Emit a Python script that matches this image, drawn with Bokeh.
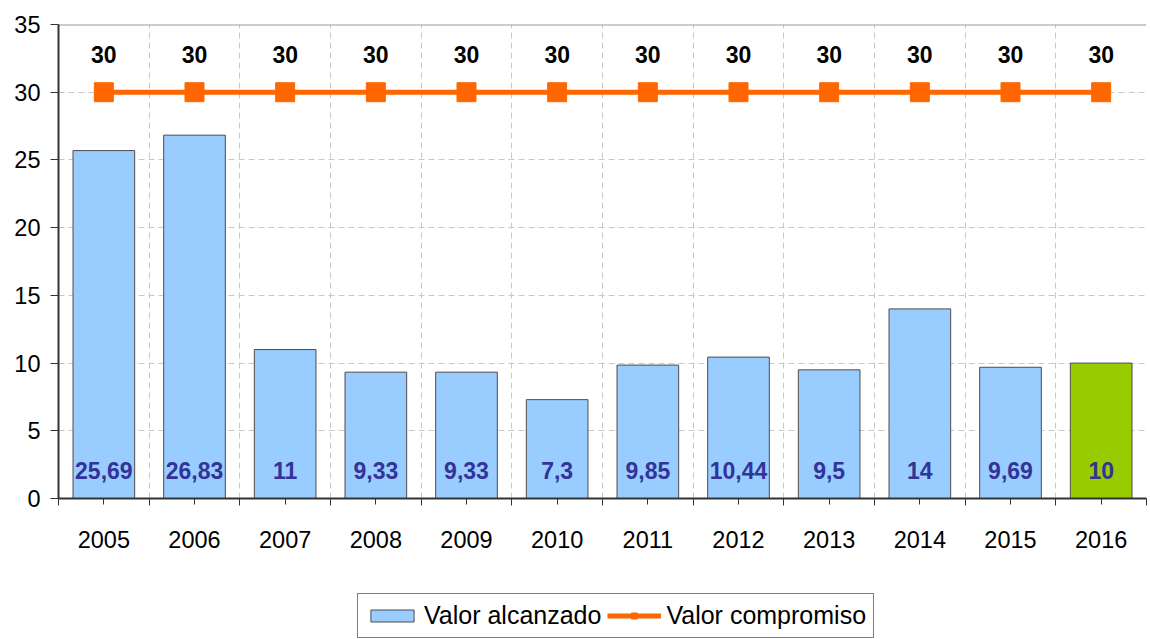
from bokeh.plotting import figure
from bokeh.layouts import column
from bokeh.models import ColumnDataSource, FixedTicker, Legend, LegendItem, Range1d
from bokeh.core.properties import value
from bokeh.embed import file_html
from bokeh.resources import INLINE

years = ["2005", "2006", "2007", "2008", "2009", "2010", "2011", "2012", "2013", "2014", "2015", "2016"]
alcanzado = [25.69, 26.83, 11, 9.33, 9.33, 7.3, 9.85, 10.44, 9.5, 14, 9.69, 10]
alcanzado_labels = ["25,69", "26,83", "11", "9,33", "9,33", "7,3", "9,85", "10,44", "9,5", "14", "9,69", "10"]
compromiso = [30, 30, 30, 30, 30, 30, 30, 30, 30, 30, 30, 30]
compromiso_labels = ["30"] * 12

n = len(years)
xc = [i + 0.5 for i in range(n)]
colors = ["#99CCFF"] * (n - 1) + ["#99CC00"]

FONT = "Liberation Sans"
FS = "23.5px"
BAR_LINE = "#4d4d4d"
ORANGE = "#FF6600"

src = ColumnDataSource(dict(x=xc, top=alcanzado, lab=alcanzado_labels, color=colors,
                            comp=compromiso, clab=compromiso_labels,
                            ly=[2.07] * n, cy=[32.8] * n))

p = figure(width=1150, height=590, output_backend="svg", toolbar_location=None,
           x_range=Range1d(0, n), y_range=Range1d(0, 35),
           min_border_left=58, min_border_right=4, min_border_top=24, min_border_bottom=92)
p.outline_line_color = None

p.vbar(x="x", top="top", width=0.68, bottom=0, source=src, fill_color="color",
       line_color=BAR_LINE, line_width=1)
p.line(x="x", y="comp", source=src, line_color=ORANGE, line_width=5)
p.scatter(x="x", y="comp", source=src, marker="square", size=19,
          fill_color=ORANGE, line_color=ORANGE)

p.text(x="x", y="ly", text="lab", source=src, text_align="center", text_baseline="middle",
       text_font=value(FONT), text_font_style="bold", text_font_size="23px", text_color="#333399")
p.text(x="x", y="cy", text="clab", source=src, text_align="center", text_baseline="middle",
       text_font=value(FONT), text_font_style="bold", text_font_size="23px", text_color="#000000")

# top border
p.line(x=[0, n], y=[35, 35], line_color="#999999", line_width=2)

# axes
p.xaxis.ticker = FixedTicker(ticks=xc, minor_ticks=list(range(n + 1)))
p.xaxis.major_label_overrides = {x: y for x, y in zip(xc, years)}
p.xaxis.major_label_text_font = FONT
p.xaxis.major_label_text_font_size = FS
p.xaxis.major_label_text_color = "#000000"
p.xaxis.major_label_standoff = 25
p.xaxis.major_tick_in = 0
p.xaxis.major_tick_out = 6
p.xaxis.minor_tick_in = 0
p.xaxis.minor_tick_out = 7
p.xaxis.axis_line_color = "#333333"
p.xaxis.axis_line_width = 2
p.xaxis.major_tick_line_color = "#333333"
p.xaxis.minor_tick_line_color = "#333333"

p.yaxis.ticker = FixedTicker(ticks=[0, 5, 10, 15, 20, 25, 30, 35])
p.yaxis.major_label_text_font = FONT
p.yaxis.major_label_text_font_size = FS
p.yaxis.major_label_text_color = "#000000"
p.yaxis.major_label_standoff = 10
p.yaxis.major_tick_in = 0
p.yaxis.major_tick_out = 8
p.yaxis.minor_tick_line_color = None
p.yaxis.axis_line_color = "#333333"
p.yaxis.axis_line_width = 2
p.yaxis.major_tick_line_color = "#333333"

# grids
p.xgrid.ticker = FixedTicker(ticks=list(range(1, n)))
p.xgrid.grid_line_color = "#c8c8c8"
p.xgrid.grid_line_dash = "6 4"
p.ygrid.grid_line_color = "#c8c8c8"
p.ygrid.grid_line_dash = "6 4"

# legend strip below the chart (legend proxies are off-screen)
pl = figure(width=1150, height=49, output_backend="svg", toolbar_location=None,
            x_range=Range1d(1000, 1001), y_range=Range1d(1000, 1001),
            min_border_left=0, min_border_right=0, min_border_top=0, min_border_bottom=0,
            x_axis_type=None, y_axis_type=None)
pl.outline_line_color = None
pl.grid.visible = False
proxy = ColumnDataSource(dict(x=xc[:1], top=alcanzado[:1], y=compromiso[:1]))
lb = pl.vbar(x="x", top="top", width=0.5, source=proxy, fill_color="#99CCFF", line_color=BAR_LINE)
ll = pl.line(x="x", y="y", source=proxy, line_color=ORANGE, line_width=5)
lm = pl.scatter(x="x", y="y", source=proxy, marker="square", size=13,
                fill_color=ORANGE, line_color=ORANGE)

legend = Legend(items=[LegendItem(label="Valor alcanzado", renderers=[lb]),
                       LegendItem(label="Valor compromiso", renderers=[ll, lm])],
                orientation="horizontal", location=(299, 1),
                label_text_font=FONT, label_text_font_size="25px", label_text_color="#000000",
                glyph_width=54, glyph_height=15, spacing=6, padding=7, label_standoff=5,
                border_line_color="#000000", border_line_width=1, margin=0,
                background_fill_color="#ffffff")
pl.add_layout(legend)

layout = column(p, pl, spacing=0)
open("out.html", "w").write(file_html(layout, INLINE))
